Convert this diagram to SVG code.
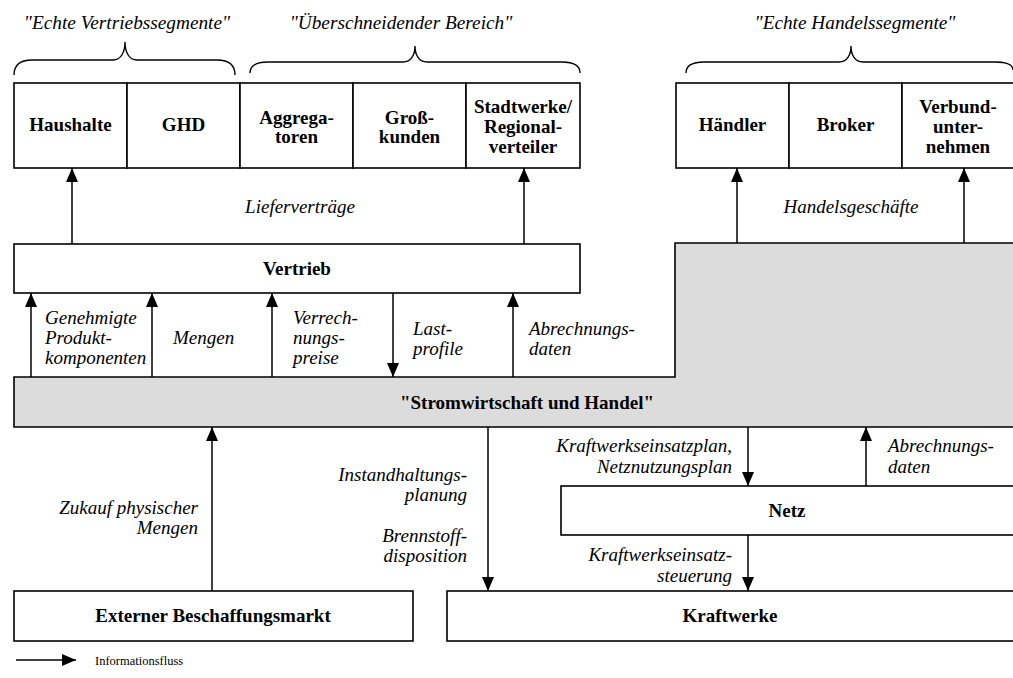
<svg xmlns="http://www.w3.org/2000/svg" width="1013" height="678" viewBox="0 0 1013 678" font-family="Liberation Serif, Tinos, Times New Roman, Noto Serif, DejaVu Serif, serif">
  <defs>
    <marker id="arrow" markerUnits="userSpaceOnUse" markerWidth="14" markerHeight="12" refX="14" refY="6" orient="auto">
      <path d="M0,0 L14,6 L0,12 z" fill="#000"/>
    </marker>
    <style>
      .box { fill: #fff; stroke: #000; stroke-width: 1.6; }
      .shade { fill: #dcdcdc; stroke: #000; stroke-width: 1.6; }
      .brace { fill: none; stroke: #000; stroke-width: 1.4; }
      .flow { stroke: #000; stroke-width: 1.5; fill: none; marker-end: url(#arrow); }
      .b { font-weight: bold; font-size: 19px; text-anchor: middle; fill: #000; }
      .i { font-style: italic; font-size: 19px; fill: #000; }
      .t { font-style: italic; font-size: 19.3px; text-anchor: middle; fill: #000; }
      .mid { text-anchor: middle; }
      .end { text-anchor: end; }
      .leg { font-size: 12.5px; fill: #000; }
    </style>
  </defs>
  <rect width="1013" height="678" fill="#fff"/>

  <!-- segment headings and braces -->
  <g id="headings">
    <text class="t" x="127" y="29">"Echte Vertriebssegmente"</text>
    <text class="t" x="401" y="29">"Überschneidender Bereich"</text>
    <text class="t" x="855" y="29">"Echte Handelssegmente"</text>
    <path class="brace" d="M14,75 Q14,60 32,60 L113,60 C121,60 125,52 125,42 C125,52 129,60 137,60 L217,60 Q235,60 235,75"/>
    <path class="brace" d="M250,73 Q250,62 268,62 L403,62 C411,62 415,55 415,46 C415,55 419,62 427,62 L562,62 Q580,62 580,73"/>
    <path class="brace" d="M686,73 Q686,62 704,62 L839,62 C847,62 851,55 851,46 C851,55 855,62 863,62 L995,62 Q1013,62 1013,70"/>
  </g>

  <!-- customer segments -->
  <g id="haushalte">
    <rect class="box" x="14" y="83" width="113" height="85"/>
    <text class="b" x="70.5" y="131">Haushalte</text>
  </g>
  <g id="ghd">
    <rect class="box" x="127" y="83" width="113" height="85"/>
    <text class="b" x="183.5" y="131">GHD</text>
  </g>
  <g id="aggregatoren">
    <rect class="box" x="240" y="83" width="113" height="85"/>
    <text class="b" x="296.5" y="124">Aggrega-</text>
    <text class="b" x="296.5" y="143">toren</text>
  </g>
  <g id="grosskunden">
    <rect class="box" x="353" y="83" width="113" height="85"/>
    <text class="b" x="409.5" y="124">Groß-</text>
    <text class="b" x="409.5" y="143">kunden</text>
  </g>
  <g id="stadtwerke">
    <rect class="box" x="466" y="83" width="114" height="85"/>
    <text class="b" x="523" y="113">Stadtwerke/</text>
    <text class="b" x="523" y="133">Regional-</text>
    <text class="b" x="523" y="153">verteiler</text>
  </g>

  <!-- trading segments -->
  <g id="haendler">
    <rect class="box" x="676" y="83" width="113" height="85"/>
    <text class="b" x="732.5" y="131">Händler</text>
  </g>
  <g id="broker">
    <rect class="box" x="789" y="83" width="113" height="85"/>
    <text class="b" x="845.5" y="131">Broker</text>
  </g>
  <g id="verbund">
    <rect class="box" x="902" y="83" width="120" height="85"/>
    <text class="b" x="958" y="113">Verbund-</text>
    <text class="b" x="958" y="133">unter-</text>
    <text class="b" x="958" y="153">nehmen</text>
  </g>

  <!-- central unit with the trading step -->
  <g id="stromwirtschaft">
    <path class="shade" d="M14,377 L675,377 L675,243 L1022,243 L1022,427 L14,427 z"/>
    <text class="b" x="527" y="409">"Stromwirtschaft und Handel"</text>
  </g>

  <g id="vertrieb">
    <rect class="box" x="14" y="244" width="566" height="49"/>
    <text class="b" x="297" y="275">Vertrieb</text>
  </g>

  <g id="netz">
    <rect class="box" x="561" y="486" width="461" height="49"/>
    <text class="b" x="787" y="517">Netz</text>
  </g>

  <g id="beschaffungsmarkt">
    <rect class="box" x="14" y="591" width="399" height="50"/>
    <text class="b" x="213" y="622">Externer Beschaffungsmarkt</text>
  </g>

  <g id="kraftwerke">
    <rect class="box" x="447" y="591" width="575" height="50"/>
    <text class="b" x="730" y="622">Kraftwerke</text>
  </g>

  <!-- information flows -->
  <g id="connectors">
    <line class="flow" x1="72" y1="244" x2="72" y2="168"/>
    <line class="flow" x1="524" y1="244" x2="524" y2="168"/>
    <line class="flow" x1="737" y1="243" x2="737" y2="168"/>
    <line class="flow" x1="964" y1="243" x2="964" y2="168"/>

    <line class="flow" x1="31" y1="377" x2="31" y2="293"/>
    <line class="flow" x1="152" y1="377" x2="152" y2="293"/>
    <line class="flow" x1="272" y1="377" x2="272" y2="293"/>
    <line class="flow" x1="393" y1="293" x2="393" y2="377"/>
    <line class="flow" x1="513" y1="377" x2="513" y2="293"/>

    <line class="flow" x1="212" y1="591" x2="212" y2="427"/>
    <line class="flow" x1="488" y1="427" x2="488" y2="591"/>
    <line class="flow" x1="748" y1="427" x2="748" y2="486"/>
    <line class="flow" x1="866" y1="486" x2="866" y2="427"/>
    <line class="flow" x1="748" y1="535" x2="748" y2="591"/>
  </g>

  <!-- flow labels -->
  <g id="labels">
    <text class="i mid" x="300" y="213">Lieferverträge</text>
    <text class="i mid" x="851" y="213">Handelsgeschäfte</text>

    <text class="i" x="45" y="324">Genehmigte</text>
    <text class="i" x="45" y="344">Produkt-</text>
    <text class="i" x="45" y="364">komponenten</text>
    <text class="i" x="173" y="344">Mengen</text>
    <text class="i" x="293" y="324">Verrech-</text>
    <text class="i" x="293" y="344">nungs-</text>
    <text class="i" x="293" y="364">preise</text>
    <text class="i" x="413" y="335">Last-</text>
    <text class="i" x="413" y="355">profile</text>
    <text class="i" x="529" y="335">Abrechnungs-</text>
    <text class="i" x="529" y="355">daten</text>

    <text class="i end" x="198" y="514">Zukauf physischer</text>
    <text class="i end" x="198" y="534">Mengen</text>
    <text class="i end" x="467" y="481">Instandhaltungs-</text>
    <text class="i end" x="467" y="501">planung</text>
    <text class="i end" x="467" y="542">Brennstoff-</text>
    <text class="i end" x="467" y="562">disposition</text>

    <text class="i end" x="732" y="452">Kraftwerkseinsatzplan,</text>
    <text class="i end" x="732" y="473">Netznutzungsplan</text>
    <text class="i" x="888" y="452">Abrechnungs-</text>
    <text class="i" x="888" y="473">daten</text>
    <text class="i end" x="732" y="561">Kraftwerkseinsatz-</text>
    <text class="i end" x="732" y="582">steuerung</text>
  </g>

  <!-- legend -->
  <g id="legend">
    <line class="flow" x1="16" y1="660" x2="76" y2="660"/>
    <text class="leg" x="95" y="665">Informationsfluss</text>
  </g>
</svg>
